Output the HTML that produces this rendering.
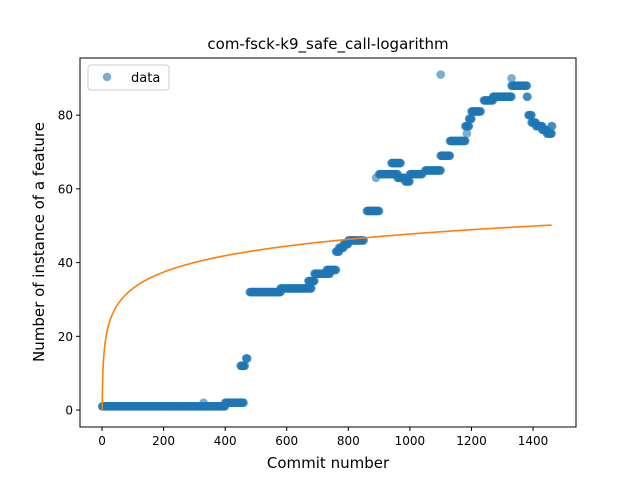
<!DOCTYPE html>
<html><head><meta charset="utf-8"><style>
body{margin:0;background:#fff;}
svg text{font-family:"DejaVu Sans","Liberation Sans",sans-serif;fill:#000;}
</style></head><body>
<svg id="chart" width="640" height="480" xmlns="http://www.w3.org/2000/svg">
<rect width="640" height="480" fill="#fff"/>
<text x="328" y="49" font-size="15" text-anchor="middle">com-fsck-k9_safe_call-logarithm</text>
<g id="plot"></g>
<g id="axes"></g>
<text x="328" y="468" font-size="15" text-anchor="middle">Commit number</text>
<text transform="translate(44,242) rotate(-90)" font-size="15" text-anchor="middle">Number of instance of a feature</text>
<g>
<rect x="88" y="65" width="81" height="25" rx="3" fill="#fff" fill-opacity="0.8" stroke="#ccc"/>
<circle cx="107" cy="77" r="4.2" fill="#1f77b4" fill-opacity="0.6"/>
<text x="131" y="82" font-size="13">data</text>
</g>
</svg>
<script>
const segStart=[0,400,450,468,480,580,670,690,730,760,770,785,800,860,900,940,960,985,1000,1050,1100,1130,1180,1192,1200,1240,1270,1330,1380,1385,1395,1410,1430,1445,1460];
const segEnd  =[400,460,465,472,580,680,690,740,760,770,785,800,850,900,960,970,985,1000,1040,1100,1130,1180,1192,1200,1230,1270,1330,1380,1382,1395,1410,1430,1445,1460,1462];
const segValue=[1,2,12,14,32,33,35,37,38,43,44,45,46,54,64,67,63,62,64,65,69,73,77,79,81,84,85,88,85,80,78,77,76,75,77];
const extraX=[330,890,1100,1185,1330,1460];
const extraY=[2,63,91,75,90,75];
const fitA=3.4, fitB=6.42;
const xTicks=[0,200,400,600,800,1000,1200,1400];
const yTicks=[0,20,40,60,80];
const L=80,R=576,T=58,B=427;
const xMin=-71.5,xMax=1539.5,yMin=-4.6,yMax=95.5;
const sx=v=>L+(v-xMin)/(xMax-xMin)*(R-L);
const sy=v=>B-(v-yMin)/(yMax-yMin)*(B-T);
const NS="http://www.w3.org/2000/svg";
const plot=document.getElementById('plot'),axes=document.getElementById('axes');
function mk(t,p,a){const e=document.createElementNS(NS,t);for(const k in a)e.setAttribute(k,a[k]);p.appendChild(e);return e;}
function pt(x,y){const c=mk('circle',plot,{cx:sx(x),cy:sy(y),r:4.3,fill:'#1f77b4','fill-opacity':0.6});

}
for(let i=0;i<segStart.length;i++){for(let x=segStart[i];x<=segEnd[i];x+=2)pt(x,segValue[i]);}
for(let i=0;i<extraX.length;i++)pt(extraX[i],extraY[i]);
const x0=Math.exp(-fitA/fitB);
let d='M'+sx(x0).toFixed(2)+','+sy(0).toFixed(2);
for(let x=x0;x<=1462;x+=(x<10?0.1:(x<60?0.5:4))){d+=' L'+sx(x).toFixed(2)+','+sy(fitA+fitB*Math.log(x)).toFixed(2);}
const fit=mk('path',plot,{d:d,fill:'none',stroke:'#ff7f0e','stroke-width':1.6});


const frame=mk('rect',axes,{x:L,y:T,width:R-L,height:B-T,fill:'none',stroke:'#000','stroke-width':1});


xTicks.forEach(v=>{mk('line',axes,{x1:sx(v),x2:sx(v),y1:B,y2:B+4,stroke:'#000'});
const t=mk('text',axes,{x:sx(v),y:B+18,'font-size':12,'text-anchor':'middle'});t.textContent=v;

});
yTicks.forEach(v=>{mk('line',axes,{x1:L-4,x2:L,y1:sy(v),y2:sy(v),stroke:'#000'});
const t=mk('text',axes,{x:L-7,y:sy(v)+4.5,'font-size':12,'text-anchor':'end'});t.textContent=v;

});
</script>
</body></html>
